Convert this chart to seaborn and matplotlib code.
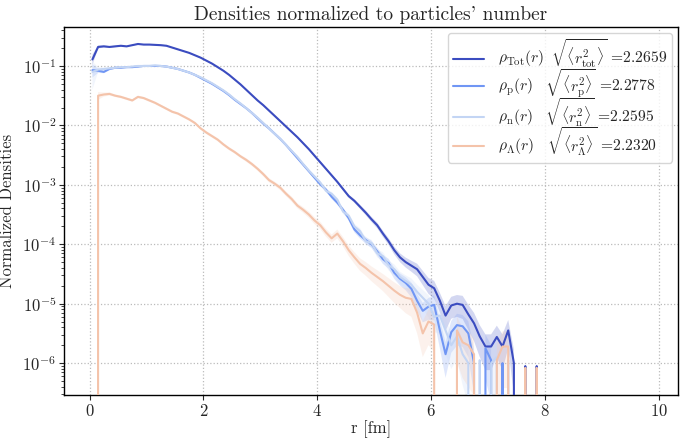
import numpy as np
import pandas as pd
import seaborn as sns
import matplotlib.pyplot as plt

# bin centres [fm]
r = [0.05, 0.15, 0.25, 0.35, 0.45, 0.55, 0.65, 0.75, 0.85, 0.95,
     1.05, 1.15, 1.25, 1.35, 1.45, 1.55, 1.65, 1.75, 1.85, 1.95,
     2.05, 2.15, 2.25, 2.35, 2.45, 2.55, 2.65, 2.75, 2.85, 2.95,
     3.05, 3.15, 3.25, 3.35, 3.45, 3.55, 3.65, 3.75, 3.85, 3.95,
     4.05, 4.15, 4.25, 4.35, 4.45, 4.55, 4.65, 4.75, 4.85, 4.95,
     5.05, 5.15, 5.25, 5.35, 5.45, 5.55, 5.65, 5.75, 5.85, 5.95,
     6.05, 6.15, 6.25, 6.35, 6.45, 6.55, 6.65, 6.75, 6.85, 6.95,
     7.05, 7.15, 7.25, 7.35, 7.45, 7.55, 7.65, 7.75, 7.85, 7.95]

# log10 of the densities, None = empty bin
log_tot = [-0.89, -0.68, -0.67, -0.68, -0.67, -0.66, -0.67, -0.65, -0.63, -0.64,
           -0.64, -0.645, -0.65, -0.66, -0.69, -0.72, -0.75, -0.78, -0.82, -0.86,
           -0.91, -0.96, -1.02, -1.08, -1.15, -1.23, -1.31, -1.40, -1.49, -1.58,
           -1.66, -1.75, -1.84, -1.93, -2.02, -2.11, -2.20, -2.30, -2.40, -2.51,
           -2.62, -2.73, -2.84, -2.95, -3.07, -3.19, -3.27, -3.37, -3.47, -3.58,
           -3.68, -3.82, -3.95, -4.10, -4.22, -4.30, -4.36, -4.42, -4.55, -4.68,
           -4.74, -4.95, -5.20, -5.03, -5.00, -5.02, -5.18, -5.33, -5.55, -5.72,
           -5.72, -5.56, -5.72, -5.45, -6.00, None, -6.05, None, -6.05, None]
log_p = [-1.07, -1.08, -1.10, -1.05, -1.03, -1.03, -1.02, -1.02, -1.01, -1.00,
         -1.00, -1.00, -1.00, -1.01, -1.03, -1.05, -1.08, -1.11, -1.15, -1.20,
         -1.25, -1.30, -1.36, -1.42, -1.49, -1.57, -1.64, -1.71, -1.79, -1.88,
         -1.97, -2.05, -2.14, -2.23, -2.33, -2.44, -2.55, -2.66, -2.77, -2.88,
         -2.99, -3.08, -3.20, -3.30, -3.42, -3.56, -3.75, -3.85, -3.93, -4.00,
         -4.12, -4.25, -4.32, -4.48, -4.58, -4.65, -4.75, -4.95, -5.12, -5.05,
         -5.02, -5.45, -5.85, -5.48, -5.36, -5.38, -5.50, -6.00, None, -5.75,
         -5.95, None, -6.00, None, None, None, None, None, None, None]
log_n = [-1.10, -1.06, -1.05, -1.04, -1.03, -1.02, -1.02, -1.01, -1.00, -1.00,
         -1.00, -0.99, -1.00, -1.01, -1.03, -1.05, -1.08, -1.11, -1.15, -1.19,
         -1.24, -1.29, -1.35, -1.41, -1.48, -1.56, -1.63, -1.71, -1.79, -1.87,
         -1.96, -2.05, -2.14, -2.23, -2.33, -2.43, -2.53, -2.65, -2.76, -2.86,
         -2.96, -3.10, -3.15, -3.25, -3.45, -3.52, -3.70, -3.78, -3.95, -3.98,
         -4.15, -4.20, -4.35, -4.42, -4.55, -4.62, -4.68, -4.80, -4.90, -5.00,
         -5.22, -5.20, -5.45, -5.70, -5.55, -5.85, -6.00, None, -5.95, None,
         -6.00, -5.90, None, -5.95, None, None, None, None, None, None]
log_lam = [None, -1.50, -1.48, -1.47, -1.50, -1.52, -1.55, -1.58, -1.52, -1.54,
           -1.58, -1.62, -1.67, -1.72, -1.77, -1.80, -1.85, -1.90, -1.96, -2.05,
           -2.12, -2.18, -2.24, -2.32, -2.39, -2.45, -2.52, -2.58, -2.65, -2.73,
           -2.82, -2.92, -2.98, -3.05, -3.15, -3.24, -3.35, -3.42, -3.50, -3.60,
           -3.68, -3.80, -3.90, -3.82, -3.95, -4.10, -4.22, -4.33, -4.40, -4.48,
           -4.55, -4.62, -4.70, -4.78, -4.85, -4.90, -4.92, -5.15, -5.50, -5.30,
           -5.35, None, None, None, -5.45, -5.65, -5.70, -5.85, None, None,
           None, -5.95, -5.72, -5.72, None, None, -6.08, None, -6.08, None]

# relative half-width of the shaded bands
err_tot = [0.20, 0.06, 0.04, 0.03, 0.03, 0.03, 0.02, 0.02, 0.02, 0.02,
           0.02, 0.02, 0.02, 0.02, 0.02, 0.02, 0.02, 0.02, 0.02, 0.02,
           0.02, 0.02, 0.02, 0.02, 0.02, 0.02, 0.02, 0.02, 0.02, 0.02,
           0.03, 0.03, 0.03, 0.03, 0.03, 0.03, 0.03, 0.03, 0.03, 0.03,
           0.04, 0.04, 0.05, 0.05, 0.06, 0.06, 0.07, 0.08, 0.09, 0.10,
           0.11, 0.12, 0.13, 0.15, 0.17, 0.19, 0.21, 0.24, 0.27, 0.30,
           0.33, 0.36, 0.45, 0.40, 0.40, 0.42, 0.45, 0.50, 0.55, 0.60,
           0.60, 0.55, 0.60, 0.50, 0.70, 0.00, 0.90, 0.00, 0.90, 0.00]
err_p = [0.25, 0.08, 0.05, 0.04, 0.04, 0.03, 0.03, 0.03, 0.03, 0.03,
         0.03, 0.03, 0.03, 0.03, 0.03, 0.03, 0.03, 0.03, 0.03, 0.03,
         0.03, 0.03, 0.03, 0.03, 0.03, 0.03, 0.03, 0.03, 0.03, 0.03,
         0.04, 0.04, 0.04, 0.04, 0.04, 0.05, 0.05, 0.05, 0.06, 0.06,
         0.07, 0.07, 0.08, 0.08, 0.09, 0.10, 0.11, 0.12, 0.13, 0.14,
         0.15, 0.17, 0.19, 0.21, 0.23, 0.25, 0.28, 0.32, 0.36, 0.40,
         0.45, 0.50, 0.60, 0.55, 0.55, 0.55, 0.60, 0.70, 0.00, 0.70,
         0.80, 0.00, 0.80, 0.00, 0.00, 0.00, 0.00, 0.00, 0.00, 0.00]
err_n = [0.50, 0.10, 0.05, 0.04, 0.04, 0.03, 0.03, 0.03, 0.03, 0.03,
         0.03, 0.03, 0.03, 0.03, 0.03, 0.03, 0.03, 0.03, 0.03, 0.03,
         0.03, 0.03, 0.03, 0.03, 0.03, 0.03, 0.03, 0.03, 0.03, 0.03,
         0.04, 0.04, 0.04, 0.04, 0.04, 0.05, 0.05, 0.05, 0.06, 0.06,
         0.07, 0.07, 0.08, 0.08, 0.09, 0.10, 0.11, 0.12, 0.13, 0.14,
         0.15, 0.17, 0.19, 0.21, 0.23, 0.25, 0.28, 0.32, 0.36, 0.40,
         0.45, 0.50, 0.60, 0.60, 0.60, 0.70, 0.80, 0.00, 0.80, 0.00,
         0.80, 0.80, 0.00, 0.80, 0.00, 0.00, 0.00, 0.00, 0.00, 0.00]
err_lam = [0.00, 0.15, 0.08, 0.06, 0.05, 0.05, 0.05, 0.05, 0.05, 0.05,
           0.05, 0.05, 0.05, 0.05, 0.05, 0.05, 0.05, 0.05, 0.05, 0.05,
           0.06, 0.06, 0.06, 0.06, 0.06, 0.06, 0.06, 0.07, 0.07, 0.07,
           0.08, 0.08, 0.08, 0.09, 0.09, 0.10, 0.10, 0.11, 0.12, 0.13,
           0.14, 0.15, 0.16, 0.17, 0.18, 0.20, 0.22, 0.24, 0.26, 0.28,
           0.30, 0.32, 0.35, 0.38, 0.40, 0.45, 0.50, 0.55, 0.60, 0.60,
           0.65, 0.00, 0.00, 0.00, 0.70, 0.75, 0.80, 0.80, 0.00, 0.00,
           0.00, 0.85, 0.80, 0.80, 0.00, 0.00, 0.90, 0.00, 0.90, 0.00]

labels = [r"$\rho_{\mathrm{Tot}}(r)\;\;\sqrt{\langle r^2_{\mathrm{tot}}\rangle}$ =2.2659",
          r"$\rho_{\mathrm{p}}(r)\quad\sqrt{\langle r^2_{\mathrm{p}}\rangle}$ =2.2778",
          r"$\rho_{\mathrm{n}}(r)\quad\sqrt{\langle r^2_{\mathrm{n}}\rangle}$ =2.2595",
          r"$\rho_{\Lambda}(r)\quad\sqrt{\langle r^2_{\Lambda}\rangle}$ =2.2320"]
colors = ["#3b4cc0", "#7096f4", "#c3d5f4", "#f4c3aa"]
y_ticks = [1e-6, 1e-5, 1e-4, 1e-3, 1e-2, 1e-1]


def to_density(logs):
    return np.array([0.0 if v is None else 10 ** v for v in logs])


series = [to_density(s) for s in (log_tot, log_p, log_n, log_lam)]
errors = [np.array(e) for e in (err_tot, err_p, err_n, err_lam)]

df = pd.concat([pd.DataFrame({"r": r, "rho": vals, "species": lab})
                for vals, lab in zip(series, labels)], ignore_index=True)

sns.set_style("ticks")
plt.rcParams["font.family"] = "serif"
plt.rcParams["font.serif"] = ["cmr10", "DejaVu Serif"]
plt.rcParams["mathtext.fontset"] = "cm"
plt.rcParams["axes.formatter.use_mathtext"] = True
plt.rcParams["axes.unicode_minus"] = False

fig = plt.figure(figsize=(6.8, 4.38), dpi=100)
ax = fig.add_axes([0.094, 0.098, 0.903, 0.84])

sns.lineplot(data=df, x="r", y="rho", hue="species", hue_order=labels,
             palette=colors, errorbar=None, lw=1.5, ax=ax, zorder=3)

for vals, err, col in zip(series, errors, colors):
    ax.fill_between(r, vals * (1 - err), vals * (1 + err), color=col,
                    alpha=0.22, lw=0, zorder=2)

ax.set_yscale("log")
ax.set_xlim(-0.45, 10.33)
ax.set_ylim(2.9e-7, 0.45)
ax.set_xticks([0, 2, 4, 6, 8, 10])
ax.set_yticks(y_ticks)
ax.grid(True, which="major", ls=":", lw=0.9, color="#bbbbbb")
ax.tick_params(labelsize=12, pad=2)
for s in ax.spines.values():
    s.set_color("black")
    s.set_linewidth(1.0)

ax.set_title("Densities normalized to particles' number", fontsize=14, pad=5)
ax.set_xlabel("r [fm]", fontsize=12, labelpad=1)
ax.set_ylabel("Normalized Densities", fontsize=12, labelpad=5)

handles, labs = ax.get_legend_handles_labels()
ax.legend(handles, labs, loc="upper right", fontsize=11.2, frameon=True,
          edgecolor="#cccccc", fancybox=True, borderaxespad=0.4,
          labelspacing=-0.2, handletextpad=0.9, borderpad=0.3)

fig.savefig("out.png", dpi=100)
